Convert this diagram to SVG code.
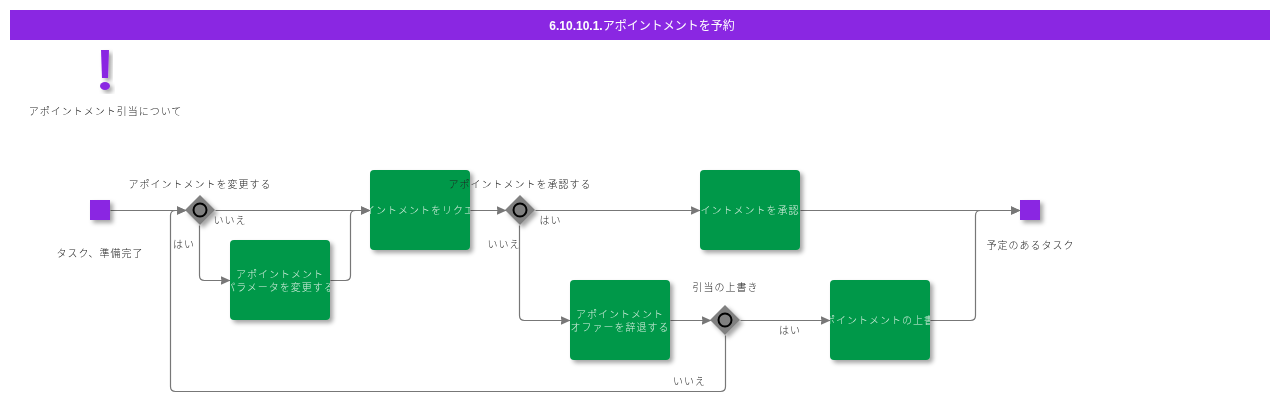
<svg xmlns="http://www.w3.org/2000/svg" width="1280" height="401" viewBox="0 0 1280 401">
<defs>
<filter id="sh" x="-40%" y="-40%" width="190%" height="190%"><feDropShadow dx="3" dy="3" stdDeviation="2" flood-color="#000" flood-opacity="0.35"/></filter>
<marker id="arr" markerUnits="userSpaceOnUse" markerWidth="11" markerHeight="9" refX="10" refY="4.5" orient="auto"><path d="M0 0L10 4.5L0 9L1 4.5Z" fill="#777"/></marker>
<clipPath id="c1"><rect x="230" y="240" width="100" height="80"/></clipPath>
<clipPath id="c2"><rect x="370" y="170" width="100" height="80"/></clipPath>
<clipPath id="c3"><rect x="700" y="170" width="100" height="80"/></clipPath>
<clipPath id="c4"><rect x="570" y="280" width="100" height="80"/></clipPath>
<clipPath id="c5"><rect x="830" y="280" width="100" height="80"/></clipPath>
</defs>
<style>
text{font-family:"Noto Sans CJK JP","Liberation Sans",sans-serif;font-size:10px;letter-spacing:1px;fill:#222;text-anchor:middle;font-weight:300;opacity:.99}
.w{fill:#d8efe0}
.t{font-family:"Liberation Sans","Noto Sans CJK JP",sans-serif;font-size:12px;font-weight:700;fill:#fff;letter-spacing:0}
.t tspan{font-weight:400}
.task{fill:#00984a;filter:url(#sh)}
.ev{fill:#8a27e2;filter:url(#sh)}
.gw{fill:#808080;filter:url(#sh)}
.ring{fill:#808080;stroke:#000;stroke-width:2}
.ln{fill:none;stroke:#777;stroke-width:1.2}
.a{marker-end:url(#arr)}
</style>
<g id="title"><rect x="10" y="10" width="1260" height="30" fill="#8a27e2"/><text class="t" x="642" y="29.500">6.10.10.1.<tspan>アポイントメントを予約</tspan></text></g>
<g id="note"><path d="M101 50H109L108 78H102Z" class="ev"/><ellipse cx="105" cy="86" rx="5" ry="4" class="ev"/><text x="105.500" y="115">アポイントメント引当について</text></g>
<g id="connectors" transform="translate(0.5 0.5)">
<path class="ln a" d="M110 210H186"/>
<path class="ln a" d="M725 335V386Q725 391 720 391H175Q170 391 170 386V215Q170 210 175 210H186"/>
<path class="ln a" d="M215 210H370"/>
<path class="ln a" d="M199 225V275Q199 280 204 280H230"/>
<path class="ln a" d="M330 280H345Q350 280 350 275V215Q350 210 355 210H370"/>
<path class="ln a" d="M470 210H506"/>
<path class="ln a" d="M535 210H700"/>
<path class="ln a" d="M519 225V315Q519 320 524 320H570"/>
<path class="ln a" d="M670 320H711"/>
<path class="ln a" d="M740 320H830"/>
<path class="ln a" d="M800 210H1020"/>
<path class="ln a" d="M930 320H970Q975 320 975 315V215Q975 210 980 210H1020"/>
</g>
<g id="start"><rect class="ev" x="90" y="200" width="20" height="20"/><text x="100" y="257">タスク、準備完了</text></g>
<g id="gw1"><path class="gw" d="M200 195L215 210L200 225L185 210Z"/><circle class="ring" cx="200" cy="210" r="6.500"/><text x="200" y="188">アポイントメントを変更する</text></g>
<g id="task1"><rect class="task" x="230" y="240" width="100" height="80" rx="4"/><g clip-path="url(#c1)"><text class="w" x="280" y="278">アポイントメント</text><text class="w" x="280" y="291">パラメータを変更する</text></g></g>
<g id="task2"><rect class="task" x="370" y="170" width="100" height="80" rx="4"/><g clip-path="url(#c2)"><text class="w" x="420" y="214">アポイントメントをリクエスト</text></g></g>
<g id="gw2"><path class="gw" d="M520 195L535 210L520 225L505 210Z"/><circle class="ring" cx="520" cy="210" r="6.500"/><text x="520" y="188">アポイントメントを承認する</text></g>
<g id="task3"><rect class="task" x="700" y="170" width="100" height="80" rx="4"/><g clip-path="url(#c3)"><text class="w" x="750" y="214">アポイントメントを承認する</text></g></g>
<g id="end"><rect class="ev" x="1020" y="200" width="20" height="20"/><text x="1030.500" y="249">予定のあるタスク</text></g>
<g id="task4"><rect class="task" x="570" y="280" width="100" height="80" rx="4"/><g clip-path="url(#c4)"><text class="w" x="620" y="318">アポイントメント</text><text class="w" x="620" y="331">オファーを辞退する</text></g></g>
<g id="gw3"><path class="gw" d="M725 305L740 320L725 335L710 320Z"/><circle class="ring" cx="725" cy="320" r="6.500"/><text x="725.500" y="291">引当の上書き</text></g>
<g id="task5"><rect class="task" x="830" y="280" width="100" height="80" rx="4"/><g clip-path="url(#c5)"><text class="w" x="880" y="324">アポイントメントの上書き</text></g></g>
<g id="labels">
<text x="230" y="224">いいえ</text>
<text x="184" y="248">はい</text>
<text x="550.500" y="224">はい</text>
<text x="504" y="248">いいえ</text>
<text x="790" y="334">はい</text>
<text x="689.500" y="385">いいえ</text>
</g>
</svg>
